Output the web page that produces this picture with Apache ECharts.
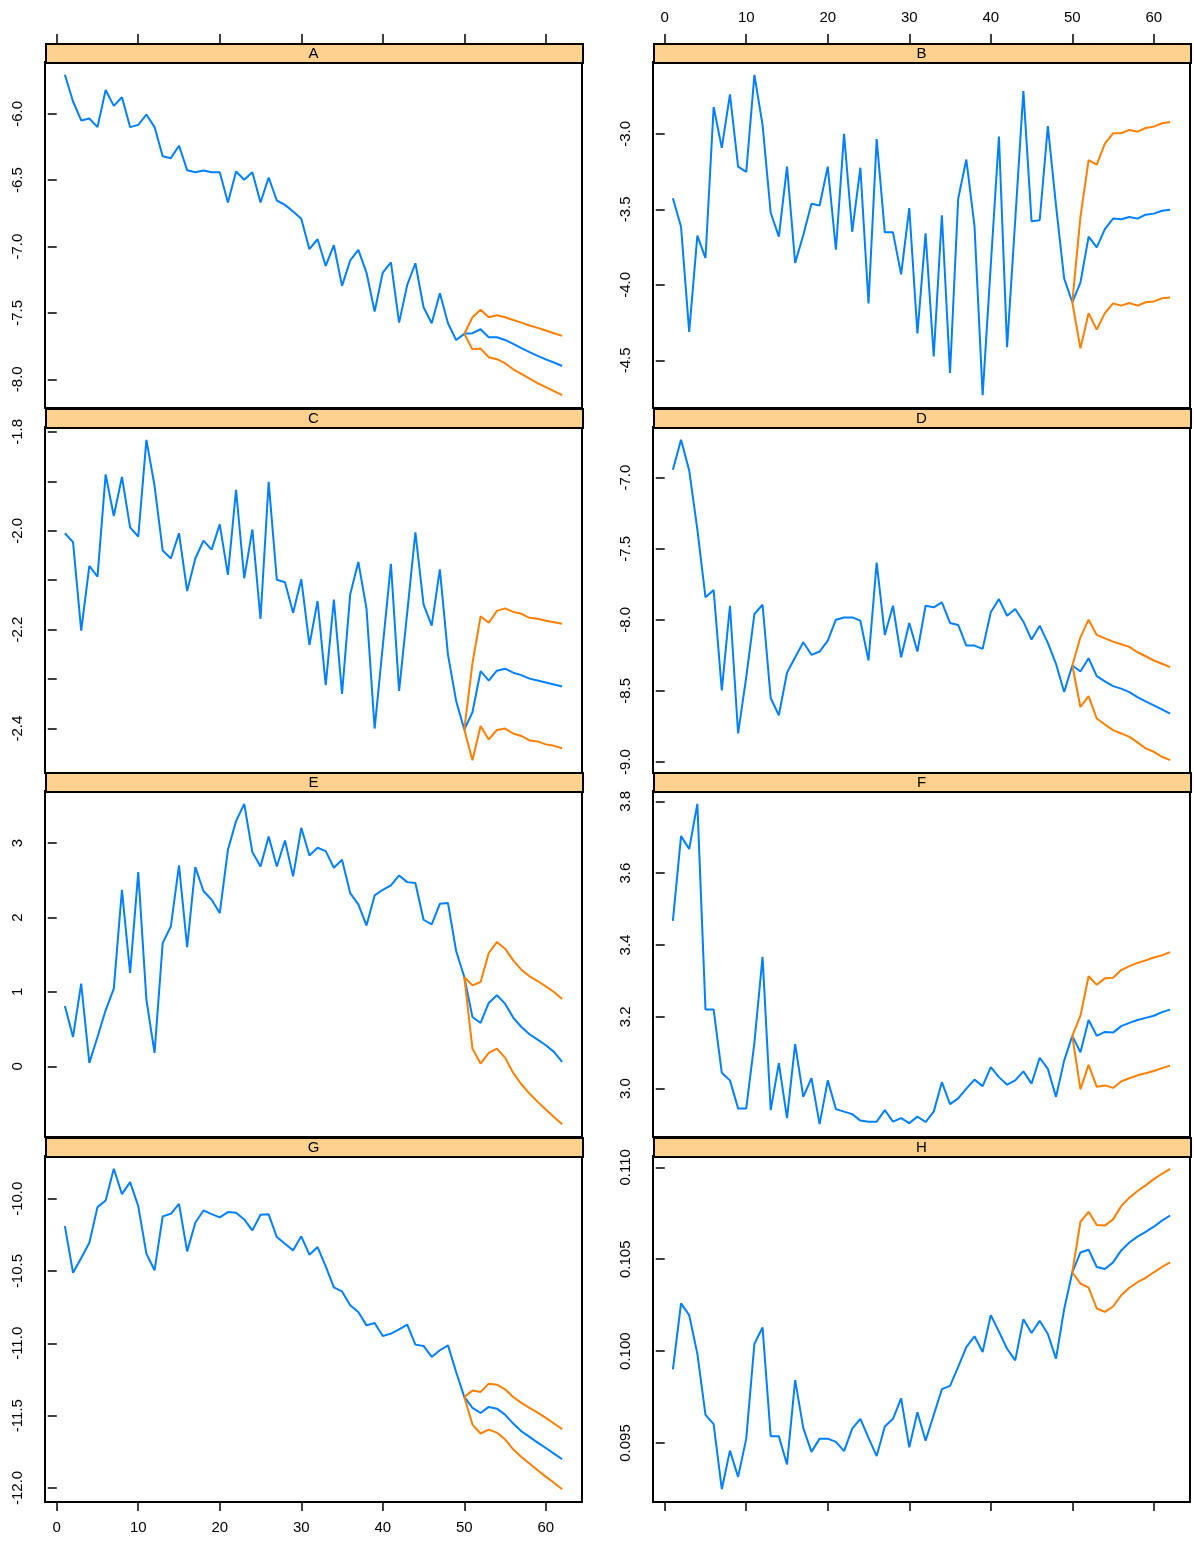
<!DOCTYPE html>
<html><head><meta charset="utf-8">
<script src="https://cdn.jsdelivr.net/npm/echarts@6.0.0/dist/echarts.min.js"></script>
<style>html,body{margin:0;padding:0;background:#fff}#c{width:1194px;height:1544px}</style>
</head><body><div id="c"></div><script>
// ---------------- data ----------------
const panelNames = ['A','B','C','D','E','F','G','H'];
const xTicks = [0,10,20,30,40,50,60];

const A_obs = [-5.706,-5.907,-6.05,-6.035,-6.10,-5.82,-5.94,-5.875,-6.10,-6.083,
-6.005,-6.10,-6.32,-6.334,-6.24,-6.425,-6.44,-6.427,-6.44,-6.44,
-6.668,-6.435,-6.497,-6.44,-6.668,-6.48,-6.653,-6.686,-6.736,-6.79,
-7.02,-6.945,-7.146,-6.99,-7.296,-7.105,-7.025,-7.196,-7.49,-7.196,
-7.12,-7.573,-7.289,-7.126,-7.457,-7.578,-7.352,-7.578,-7.704,-7.658];
const A_fc = [-7.653,-7.623,-7.683,-7.683,-7.704,-7.734,-7.766,-7.796,-7.824,-7.85,-7.874,-7.9];
const A_hi = [-7.533,-7.477,-7.533,-7.518,-7.533,-7.553,-7.573,-7.595,-7.613,-7.633,-7.653,-7.673];
const A_lo = [-7.774,-7.769,-7.834,-7.849,-7.879,-7.925,-7.96,-7.995,-8.03,-8.06,-8.09,-8.12];

const B_obs = [-3.426,-3.615,-4.311,-3.674,-3.822,-2.822,-3.093,-2.739,-3.217,-3.252,
-2.609,-2.941,-3.522,-3.680,-3.217,-3.854,-3.670,-3.463,-3.474,-3.217,
-3.767,-3.0,-3.648,-3.224,-4.122,-3.035,-3.652,-3.652,-3.93,-3.491,
-4.322,-3.659,-4.474,-3.539,-4.583,-3.43,-3.17,-3.609,-4.73,-3.87,
-3.017,-4.413,-3.57,-2.717,-3.578,-3.572,-2.948,-3.474,-3.957,-4.115];
const B_fc = [-3.985,-3.68,-3.752,-3.63,-3.561,-3.565,-3.55,-3.561,-3.535,-3.528,-3.509,-3.502];
const B_hi = [-3.55,-3.174,-3.204,-3.065,-2.996,-2.996,-2.974,-2.985,-2.961,-2.952,-2.93,-2.922];
const B_lo = [-4.42,-4.187,-4.296,-4.187,-4.122,-4.137,-4.12,-4.137,-4.115,-4.109,-4.089,-4.083];

const C_obs = [-2.005,-2.023,-2.202,-2.071,-2.093,-1.886,-1.970,-1.891,-1.993,-2.012,
-1.816,-1.909,-2.04,-2.056,-2.005,-2.122,-2.056,-2.02,-2.038,-1.987,
-2.089,-1.917,-2.096,-1.997,-2.178,-1.901,-2.099,-2.104,-2.166,-2.098,
-2.231,-2.142,-2.312,-2.139,-2.33,-2.129,-2.063,-2.157,-2.40,-2.233,
-2.067,-2.324,-2.165,-2.003,-2.149,-2.192,-2.078,-2.251,-2.344,-2.402];
const C_fc = [-2.367,-2.284,-2.303,-2.283,-2.279,-2.287,-2.292,-2.299,-2.303,-2.307,-2.311,-2.315];
const C_hi = [-2.268,-2.173,-2.186,-2.162,-2.157,-2.164,-2.168,-2.176,-2.178,-2.182,-2.185,-2.188];
const C_lo = [-2.464,-2.395,-2.422,-2.403,-2.40,-2.41,-2.415,-2.424,-2.426,-2.432,-2.435,-2.44];

const D_obs = [-6.944,-6.734,-6.949,-7.364,-7.842,-7.791,-8.496,-7.901,-8.799,-8.403,
-7.959,-7.894,-8.55,-8.671,-8.372,-8.263,-8.158,-8.246,-8.223,-8.146,
-7.999,-7.983,-7.983,-8.006,-8.286,-7.597,-8.106,-7.901,-8.263,-8.022,
-8.223,-7.901,-7.912,-7.877,-8.022,-8.036,-8.181,-8.181,-8.204,-7.947,
-7.854,-7.971,-7.924,-8.013,-8.139,-8.041,-8.162,-8.309,-8.508,-8.321];
const D_fc = [-8.363,-8.27,-8.396,-8.433,-8.466,-8.484,-8.508,-8.543,-8.573,-8.601,-8.629,-8.659];
const D_hi = [-8.123,-7.999,-8.106,-8.13,-8.153,-8.172,-8.19,-8.228,-8.256,-8.286,-8.309,-8.333];
const D_lo = [-8.613,-8.536,-8.694,-8.736,-8.776,-8.799,-8.823,-8.862,-8.904,-8.928,-8.963,-8.987];

const E_obs = [0.811,0.394,1.111,0.045,0.394,0.752,1.043,2.373,1.254,2.611,
0.896,0.179,1.657,1.881,2.70,1.603,2.678,2.356,2.239,2.06,
2.911,3.296,3.529,2.88,2.687,3.09,2.687,3.036,2.553,3.206,
2.835,2.938,2.893,2.669,2.777,2.329,2.176,1.894,2.297,2.373,
2.432,2.566,2.476,2.463,1.97,1.908,2.185,2.194,1.55,1.20];
const E_fc = [0.663,0.582,0.851,0.954,0.842,0.654,0.528,0.43,0.358,0.282,0.193,0.058];
const E_hi = [1.088,1.133,1.523,1.67,1.581,1.424,1.299,1.209,1.146,1.075,0.999,0.905];
const E_lo = [0.237,0.036,0.179,0.237,0.116,-0.09,-0.242,-0.367,-0.479,-0.582,-0.681,-0.779];

const F_obs = [3.467,3.703,3.667,3.793,3.22,3.22,3.044,3.023,2.945,2.945,
3.128,3.367,2.94,3.071,2.918,3.124,2.977,3.029,2.901,3.023,
2.943,2.936,2.929,2.911,2.908,2.908,2.94,2.908,2.918,2.904,
2.922,2.907,2.936,3.018,2.957,2.973,3.0,3.025,3.007,3.06,
3.032,3.011,3.023,3.048,3.014,3.086,3.055,2.977,3.078,3.147];
const F_fc = [3.101,3.191,3.147,3.158,3.156,3.174,3.183,3.191,3.197,3.203,3.213,3.22];
const F_hi = [3.203,3.313,3.289,3.307,3.309,3.33,3.341,3.35,3.357,3.365,3.371,3.38];
const F_lo = [2.998,3.066,3.005,3.009,3.002,3.02,3.029,3.037,3.043,3.049,3.057,3.064];

const G_obs = [-10.189,-10.512,-10.41,-10.304,-10.058,-10.012,-9.793,-9.968,-9.885,-10.051,
-10.38,-10.495,-10.122,-10.104,-10.035,-10.364,-10.166,-10.081,-10.106,-10.129,
-10.092,-10.097,-10.143,-10.219,-10.111,-10.108,-10.265,-10.311,-10.357,-10.26,
-10.387,-10.334,-10.468,-10.613,-10.641,-10.737,-10.783,-10.876,-10.859,-10.949,
-10.933,-10.903,-10.871,-11.009,-11.018,-11.094,-11.048,-11.014,-11.198,-11.371];
const G_fc = [-11.447,-11.482,-11.44,-11.452,-11.493,-11.555,-11.608,-11.647,-11.687,-11.724,-11.763,-11.802];
const G_hi = [-11.327,-11.336,-11.279,-11.286,-11.318,-11.371,-11.412,-11.447,-11.479,-11.516,-11.555,-11.594];
const G_lo = [-11.562,-11.624,-11.597,-11.618,-11.664,-11.733,-11.786,-11.832,-11.878,-11.922,-11.965,-12.009];

const H_obs = [0.09901,0.10260,0.10196,0.09986,0.09653,0.09603,0.09249,0.09459,0.09316,0.09524,
0.10040,0.10129,0.09537,0.09537,0.09384,0.09842,0.09581,0.09452,0.09524,0.09524,
0.09506,0.09456,0.09578,0.09632,0.09528,0.09429,0.09590,0.09632,0.09743,0.09477,
0.09668,0.09513,0.09653,0.09793,0.09811,0.09914,0.10022,0.10081,0.09995,0.10196,
0.10106,0.10013,0.09950,0.10174,0.10099,0.10165,0.10093,0.09959,0.10228,0.10429];
const H_fc = [0.10537,0.10552,0.10458,0.10447,0.10483,0.10548,0.10591,0.10623,0.10649,0.10677,0.10710,0.10738];
const H_hi = [0.10704,0.10758,0.10686,0.10683,0.10717,0.10789,0.10835,0.10871,0.10902,0.10936,0.10965,0.10992];
const H_lo = [0.10368,0.10345,0.10232,0.10214,0.10243,0.10304,0.10345,0.10375,0.10399,0.10429,0.10458,0.10483];

const A_yticks = [-8.0,-7.5,-7.0,-6.5,-6.0];
const B_yticks = [-4.5,-4.0,-3.5,-3.0];
const C_yticks = [-2.4,-2.3,-2.2,-2.1,-2.0,-1.9,-1.8];
const C_ylabels = [-2.4,-2.2,-2.0,-1.8];
const D_yticks = [-9.0,-8.5,-8.0,-7.5,-7.0];
const E_yticks = [0,1,2,3];
const F_yticks = [3.0,3.2,3.4,3.6,3.8];
const G_yticks = [-12.0,-11.5,-11.0,-10.5,-10.0];
const H_yticks = [0.095,0.100,0.105,0.110];

// ---------------- layout / style ----------------
const panels = [
  {obs:A_obs, fc:A_fc, hi:A_hi, lo:A_lo, ticks:A_yticks, labels:A_yticks, dec:1},
  {obs:B_obs, fc:B_fc, hi:B_hi, lo:B_lo, ticks:B_yticks, labels:B_yticks, dec:1},
  {obs:C_obs, fc:C_fc, hi:C_hi, lo:C_lo, ticks:C_yticks, labels:C_ylabels, dec:1},
  {obs:D_obs, fc:D_fc, hi:D_hi, lo:D_lo, ticks:D_yticks, labels:D_yticks, dec:1},
  {obs:E_obs, fc:E_fc, hi:E_hi, lo:E_lo, ticks:E_yticks, labels:E_yticks, dec:0},
  {obs:F_obs, fc:F_fc, hi:F_hi, lo:F_lo, ticks:F_yticks, labels:F_yticks, dec:1},
  {obs:G_obs, fc:G_fc, hi:G_hi, lo:G_lo, ticks:G_yticks, labels:G_yticks, dec:1},
  {obs:H_obs, fc:H_fc, hi:H_hi, lo:H_lo, ticks:H_yticks, labels:H_yticks, dec:3}
];
const colLeft = [45, 653];
const rowTop = [62, 427, 791, 1156];
const PW = 537, PH = 346, STRIP = 19;
const FONT = '"Liberation Sans", Arial, Helvetica, sans-serif';
const BLUE = '#0080ff', ORANGE = '#ff7f00', STRIPBG = '#ffd18f';
const nObs = 50, nAll = 62;
const xmin = 1 - 0.04 * (nAll - 1), xmax = nAll + 0.04 * (nAll - 1);

const grids = [], xAxes = [], yAxes = [], series = [], graphics = [];
panels.forEach((p, i) => {
  const col = i % 2, row = Math.floor(i / 2);
  const left = colLeft[col], top = rowTop[row];
  grids.push({left: left, top: top, width: PW, height: PH, show: true,
    borderColor: '#000', borderWidth: 2, backgroundColor: 'transparent', containLabel: false});

  const all = p.obs.concat(p.fc, p.hi, p.lo);
  const mn = Math.min(...all), mx = Math.max(...all), pad = 0.04 * (mx - mn);

  const isTopAxis = row === 0, isBottomAxis = row === 3;
  const withLabels = (row === 0 && col === 1) || (row === 3 && col === 0);
  const xa = {type: 'value', gridIndex: i, min: xmin, max: xmax,
    position: isTopAxis ? 'top' : 'bottom', offset: isTopAxis ? STRIP : 0,
    splitLine: {show: false}, axisLine: {show: false},
    axisTick: {show: isTopAxis || isBottomAxis, customValues: xTicks, length: 9, inside: false,
      lineStyle: {color: '#000', width: 1.5}},
    axisLabel: {show: withLabels, customValues: xTicks, margin: 18, color: '#000',
      fontSize: 15, fontFamily: FONT}};
  xAxes.push(xa);

  yAxes.push({type: 'value', gridIndex: i, min: mn - pad, max: mx + pad, position: 'left',
    splitLine: {show: false}, axisLine: {show: false},
    axisTick: {show: true, customValues: p.ticks, length: 9, inside: false,
      lineStyle: {color: '#000', width: 1.5}},
    axisLabel: {show: true, customValues: p.labels, rotate: 90, margin: 20, color: '#000',
      fontSize: 15, fontFamily: FONT, formatter: v => Number(v).toFixed(p.dec)}});

  const blue = p.obs.map((v, k) => [k + 1, v]).concat(p.fc.map((v, k) => [nObs + 1 + k, v]));
  const start = [[nObs, p.obs[nObs - 1]]];
  const hi = start.concat(p.hi.map((v, k) => [nObs + 1 + k, v]));
  const lo = start.concat(p.lo.map((v, k) => [nObs + 1 + k, v]));
  const base = {type: 'line', xAxisIndex: i, yAxisIndex: i, showSymbol: false, symbol: 'none',
    animation: false, silent: true};
  series.push(Object.assign({}, base, {data: blue, lineStyle: {color: BLUE, width: 2}, z: 3}));
  series.push(Object.assign({}, base, {data: hi, lineStyle: {color: ORANGE, width: 2}, z: 4}));
  series.push(Object.assign({}, base, {data: lo, lineStyle: {color: ORANGE, width: 2}, z: 4}));

  graphics.push({type: 'rect', left: left, top: top - STRIP, z: 10,
    shape: {width: PW, height: STRIP},
    style: {fill: STRIPBG, stroke: '#000', lineWidth: 2}});
  graphics.push({type: 'text', x: left + PW / 2, y: top - STRIP / 2 + 1, z: 11,
    style: {text: panelNames[i], fill: '#000', font: '15px ' + FONT, textAlign: 'center', textVerticalAlign: 'middle'}});
});

const chart = echarts.init(document.getElementById('c'), null, {renderer: 'canvas'});
chart.setOption({backgroundColor: '#fff', animation: false, grid: grids, xAxis: xAxes, yAxis: yAxes,
  series: series, graphic: graphics});
</script></body></html>
